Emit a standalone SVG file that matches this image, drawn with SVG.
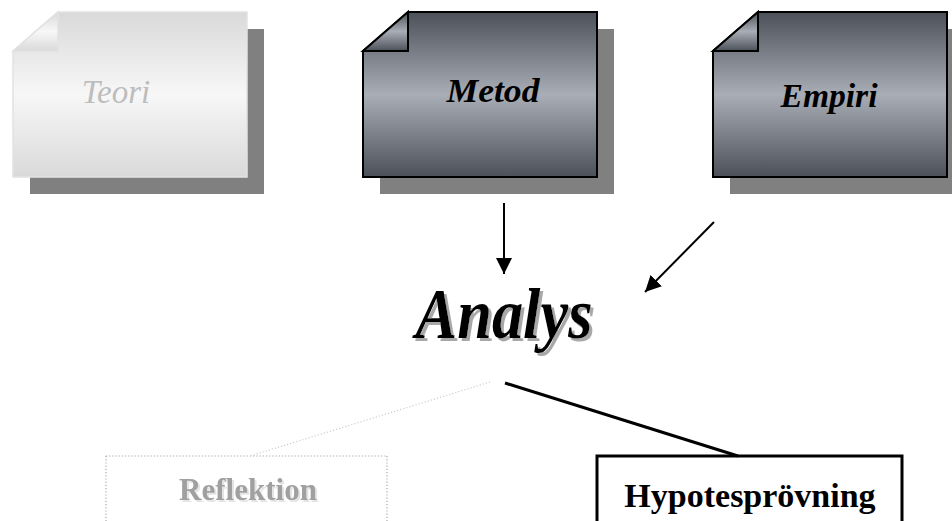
<svg xmlns="http://www.w3.org/2000/svg" width="952" height="521" viewBox="0 0 952 521">
<defs>
<linearGradient id="gDark" x1="0" y1="0" x2="0" y2="1">
<stop offset="0" stop-color="#4c5058"/>
<stop offset="0.5" stop-color="#a9adb5"/>
<stop offset="1" stop-color="#4c5058"/>
</linearGradient>
<linearGradient id="gLight" x1="0" y1="0" x2="0" y2="1">
<stop offset="0" stop-color="#d9d9d9"/>
<stop offset="0.5" stop-color="#f7f7f7"/>
<stop offset="1" stop-color="#d9d9d9"/>
</linearGradient>
<filter id="shA" x="-10%" y="-20%" width="130%" height="150%">
<feFlood flood-color="#a8a8a8" result="c"/>
<feComposite in="c" in2="SourceAlpha" operator="in" result="s"/>
<feOffset in="s" dx="3" dy="3" result="o"/>
<feMerge><feMergeNode in="o"/><feMergeNode in="SourceGraphic"/></feMerge>
</filter>
<filter id="shR" x="-10%" y="-20%" width="130%" height="150%">
<feFlood flood-color="#e4e4e4" result="c"/>
<feComposite in="c" in2="SourceAlpha" operator="in" result="s"/>
<feOffset in="s" dx="2" dy="2" result="o"/>
<feMerge><feMergeNode in="o"/><feMergeNode in="SourceGraphic"/></feMerge>
</filter>
<marker id="arrH" viewBox="0 0 16 16" refX="16" refY="8" markerWidth="16" markerHeight="16" markerUnits="userSpaceOnUse" orient="auto">
<path d="M0,0 L16,8 L0,16 Z" fill="#000"/>
</marker>
</defs>
<style>
.shadow{fill:#808080}
.dark{fill:url(#gDark);stroke:#000;stroke-width:2}
.light{fill:url(#gLight);stroke:#e2e2e2;stroke-width:1.5}
.serif{font-family:"Liberation Serif","DejaVu Serif",serif}
.lbl{font-style:italic;text-anchor:middle}
.conn{stroke:#000;stroke-width:2;fill:none}
</style>

<g id="teori">
<path class="shadow" d="M75,29 L264,29 L264,194 L30,194 L30,68 Z"/>
<path class="light" d="M58,12 L247,12 L247,177 L13,177 L13,51 Z"/>
<path class="light" d="M13,51 L58,12 L58,51 Z"/>
<text class="serif lbl" x="116" y="103" font-size="33" fill="#bdbdbd">Teori</text>
</g>

<g id="metod">
<path class="shadow" d="M425,29 L614,29 L614,194 L380,194 L380,68 Z"/>
<path class="dark" d="M408,12 L597,12 L597,177 L363,177 L363,51 Z"/>
<path class="dark" d="M363,51 L408,12 L408,51 Z"/>
<text class="serif lbl" x="493" y="102" font-size="33" font-weight="bold" textLength="93" lengthAdjust="spacingAndGlyphs" fill="#000">Metod</text>
</g>

<g id="empiri">
<path class="shadow" d="M775,29 L964,29 L964,194 L730,194 L730,68 Z"/>
<path class="dark" d="M758,12 L947,12 L947,177 L713,177 L713,51 Z"/>
<path class="dark" d="M713,51 L758,12 L758,51 Z"/>
<text class="serif lbl" x="829" y="107" font-size="33" font-weight="bold" textLength="97" lengthAdjust="spacingAndGlyphs" fill="#000">Empiri</text>
</g>

<g id="analys">
<text class="serif lbl" x="504" y="338" font-size="72" font-weight="bold" textLength="177" lengthAdjust="spacingAndGlyphs" fill="#000" filter="url(#shA)">Analys</text>
</g>

<g id="reflektion">
<path d="M106,456 L387,456 M106,456 L106,521 M387,456 L387,521" fill="none" stroke="#aaaaaa" stroke-width="1.2" stroke-dasharray="1.2 2"/>
<text class="serif" x="248" y="500" font-weight="bold" font-size="31" text-anchor="middle" fill="#a0a0a0" filter="url(#shR)">Reflektion</text>
</g>

<g id="hypotesprovning">
<path d="M597,523 L597,456 L902,456 L902,523" fill="#fff" stroke="#000" stroke-width="3"/>
<text class="serif" x="750" y="507" font-weight="bold" font-size="34" text-anchor="middle" fill="#000">Hypotesprövning</text>
</g>

<g id="connectors">
<line class="conn" x1="504" y1="203" x2="504" y2="274" marker-end="url(#arrH)"/>
<line class="conn" x1="714" y1="222" x2="645" y2="292" marker-end="url(#arrH)"/>
<line x1="505" y1="383" x2="738" y2="456" stroke="#000" stroke-width="3"/>
<line x1="490" y1="382" x2="250" y2="456" stroke="#cccccc" stroke-width="1.2" stroke-dasharray="1.2 2"/>
</g>
</svg>
